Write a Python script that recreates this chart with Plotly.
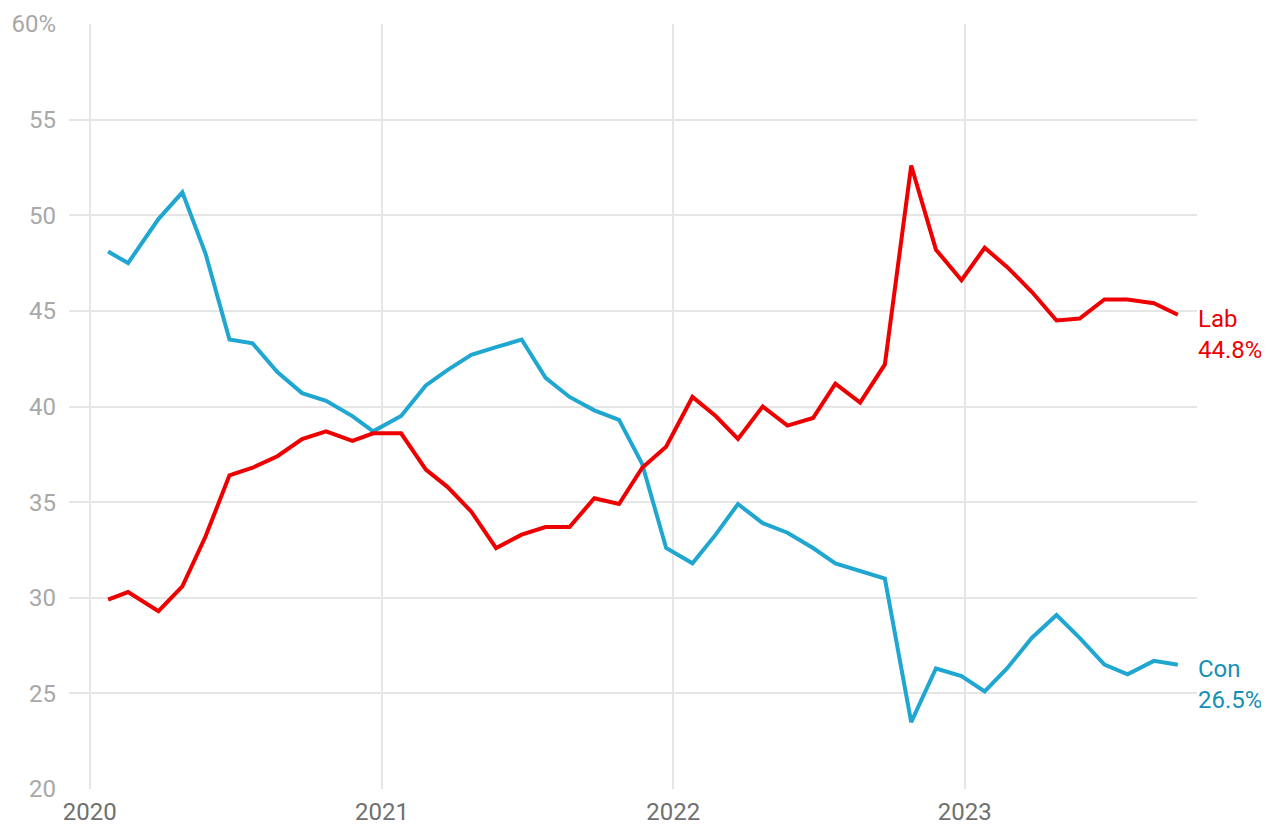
import plotly.graph_objects as go

# Fechas de las encuestas (aprox. mensuales)
dates = [
    "2020-01-24", "2020-02-18", "2020-03-27", "2020-04-26", "2020-05-25", "2020-06-24",
    "2020-07-23", "2020-08-23", "2020-09-23", "2020-10-23", "2020-11-25", "2020-12-21",
    "2021-01-25", "2021-02-25", "2021-03-24", "2021-04-23", "2021-05-24", "2021-06-25",
    "2021-07-25", "2021-08-24", "2021-09-24", "2021-10-25", "2021-11-23", "2021-12-23",
    "2022-01-25", "2022-02-23", "2022-03-23", "2022-04-23", "2022-05-24", "2022-06-25",
    "2022-07-23", "2022-08-23", "2022-09-23", "2022-10-26", "2022-11-26", "2022-12-28",
    "2023-01-26", "2023-02-23", "2023-03-26", "2023-04-26", "2023-05-25", "2023-06-25",
    "2023-07-24", "2023-08-26", "2023-09-25",
]

con = [
    48.1, 47.5, 49.8, 51.2, 48.0, 43.5, 43.3, 41.8, 40.7, 40.3, 39.5, 38.7,
    39.5, 41.1, 41.9, 42.7, 43.1, 43.5, 41.5, 40.5, 39.8, 39.3, 37.0, 32.6,
    31.8, 33.3, 34.9, 33.9, 33.4, 32.6, 31.8, 31.4, 31.0, 23.5, 26.3, 25.9,
    25.1, 26.3, 27.9, 29.1, 27.9, 26.5, 26.0, 26.7, 26.5,
]

lab = [
    29.9, 30.3, 29.3, 30.6, 33.2, 36.4, 36.8, 37.4, 38.3, 38.7, 38.2, 38.6,
    38.6, 36.7, 35.8, 34.5, 32.6, 33.3, 33.7, 33.7, 35.2, 34.9, 36.8, 37.9,
    40.5, 39.5, 38.3, 40.0, 39.0, 39.4, 41.2, 40.2, 42.2, 52.6, 48.2, 46.6,
    48.3, 47.3, 46.0, 44.5, 44.6, 45.6, 45.6, 45.4, 44.8,
]

y_ticks = [20, 25, 30, 35, 40, 45, 50, 55, 60]
y_labels = ["20", "25", "30", "35", "40", "45", "50", "55", "60%"]
x_ticks = ["2020-01-01", "2021-01-01", "2022-01-01", "2023-01-01"]
x_labels = ["2020", "2021", "2022", "2023"]

RED = "#ee0000"
BLUE = "#1fa6d1"
BLUE_TXT = "#1390b8"
FONT = "Roboto"

fig = go.Figure()

fig.add_trace(go.Scatter(x=dates, y=con, mode="lines", name="Con",
                         line=dict(color=BLUE, width=4), hoverinfo="skip"))
fig.add_trace(go.Scatter(x=dates, y=lab, mode="lines", name="Lab",
                         line=dict(color=RED, width=4), hoverinfo="skip"))

# Etiquetas al final de cada línea
for name, vals, col in [("Lab", lab, RED), ("Con", con, BLUE_TXT)]:
    fig.add_annotation(x=dates[-1], y=vals[-1], text=f"{name}<br>{vals[-1]:.1f}%",
                       showarrow=False, xanchor="left", yanchor="top", align="left",
                       xshift=18, yshift=12,
                       font=dict(family=FONT, size=24, color=col))

# el body de la página tiene 8px de margen: se descuenta de l y t
fig.update_layout(
    width=1269, height=825,
    margin=dict(l=61, r=80, t=16, b=44),
    paper_bgcolor="white", plot_bgcolor="white",
    showlegend=False,
    font=dict(family=FONT),
    xaxis=dict(
        type="date",
        range=["2019-12-06", "2023-10-19"],
        tickvals=x_ticks, ticktext=x_labels,
        showgrid=True, gridcolor="#e6e6e6", gridwidth=2,
        zeroline=False, showline=False, ticks="",
        automargin=False,
        ticklabelstandoff=6,
        tickfont=dict(family=FONT, size=24, color="#707070"),
    ),
    yaxis=dict(
        range=[20, 60],
        tickvals=y_ticks, ticktext=y_labels,
        showgrid=True, gridcolor="#e6e6e6", gridwidth=2,
        zeroline=False, showline=False, ticks="",
        automargin=False,
        ticklabelstandoff=12,
        tickfont=dict(family=FONT, size=24, color="#a8a8a8"),
    ),
)

fig.write_html("out.html")
